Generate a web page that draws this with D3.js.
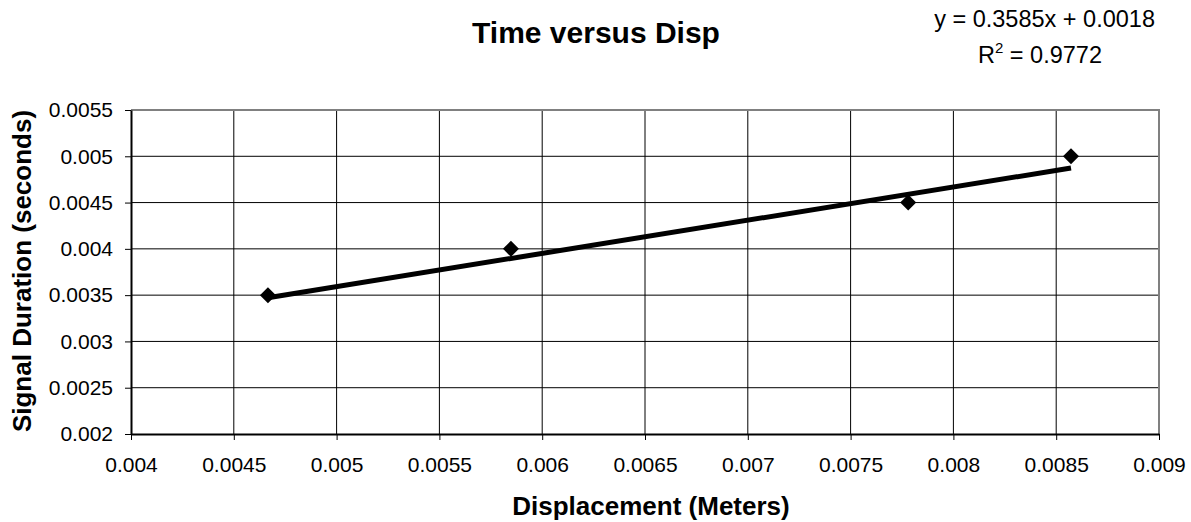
<!DOCTYPE html>
<html>
<head>
<meta charset="utf-8">
<script src="https://cdn.jsdelivr.net/npm/d3@7"></script>
<style>
  body { margin: 0; background: #fff; }
  text { font-family: "Liberation Sans", Arial, sans-serif; }
</style>
</head>
<body>
<svg width="1191" height="522"></svg>
<script>
const dispValues = [0.004666, 0.005848, 0.00778, 0.008572];
const timeValues = [0.0035, 0.004, 0.0045, 0.005];
const xTicks = [0.004, 0.0045, 0.005, 0.0055, 0.006, 0.0065, 0.007, 0.0075, 0.008, 0.0085, 0.009];
const yTicks = [0.002, 0.0025, 0.003, 0.0035, 0.004, 0.0045, 0.005, 0.0055];
const slope = 0.3585, intercept = 0.0018;

const svg = d3.select("svg");
const plotL = 131, plotR = 1159, plotT = 110, plotB = 434;

const x = d3.scaleLinear().domain([0.004, 0.009]).range([plotL, plotR]);
const y = d3.scaleLinear().domain([0.002, 0.0055]).range([plotB, plotT]);

// gridlines
svg.append("g").selectAll("line").data(xTicks.slice(1, -1)).join("line")
    .attr("x1", d => x(d)).attr("x2", d => x(d))
    .attr("y1", plotT).attr("y2", plotB)
    .attr("stroke", "#000").attr("stroke-width", 1);
svg.append("g").selectAll("line").data(yTicks.slice(1, -1)).join("line")
    .attr("x1", plotL).attr("x2", plotR)
    .attr("y1", d => y(d)).attr("y2", d => y(d))
    .attr("stroke", "#000").attr("stroke-width", 1);

// plot border (top/right grey)
svg.append("path")
    .attr("d", `M${plotL},${plotT}H${plotR}V${plotB}`)
    .attr("fill", "none").attr("stroke", "#808080").attr("stroke-width", 2);

const fmt = d => String(+d.toFixed(4));
const xAxis = svg.append("g").attr("transform", `translate(0,${plotB})`)
    .call(d3.axisBottom(x).tickValues(xTicks).tickFormat(fmt).tickSize(6).tickSizeOuter(0).tickPadding(17));
const yAxis = svg.append("g").attr("transform", `translate(${plotL},0)`)
    .call(d3.axisLeft(y).tickValues(yTicks).tickFormat(fmt).tickSize(6).tickSizeOuter(0).tickPadding(12));
[xAxis, yAxis].forEach(g => {
  g.select(".domain").attr("stroke", "#000").attr("stroke-width", 2);
  g.selectAll(".tick line").attr("stroke", "#000");
  g.selectAll(".tick text").attr("font-size", 21).attr("fill", "#000")
   .style("font-family", "'Liberation Sans', Arial, sans-serif");
});

// trendline
const x0 = d3.min(dispValues), x1 = d3.max(dispValues);
svg.append("line")
    .attr("x1", x(x0)).attr("y1", y(slope * x0 + intercept))
    .attr("x2", x(x1)).attr("y2", y(slope * x1 + intercept))
    .attr("stroke", "#000").attr("stroke-width", 5);

// points
svg.append("g").selectAll("path").data(dispValues).join("path")
    .attr("d", d3.symbol(d3.symbolSquare, 128))
    .attr("transform", (d, i) => `translate(${x(d)},${y(timeValues[i])}) rotate(45)`)
    .attr("fill", "#000");

// titles
svg.append("text").attr("x", 596).attr("y", 43).attr("text-anchor", "middle")
    .attr("font-size", 30).attr("font-weight", "bold").text("Time versus Disp");
svg.append("text").attr("x", 651).attr("y", 515).attr("text-anchor", "middle")
    .attr("font-size", 26).attr("font-weight", "bold").text("Displacement (Meters)");
svg.append("text").attr("transform", "translate(31,271) rotate(-90)").attr("text-anchor", "middle")
    .attr("font-size", 26).attr("font-weight", "bold").text("Signal Duration (seconds)");

// equation
svg.append("text").attr("x", 1155).attr("y", 27).attr("text-anchor", "end")
    .attr("font-size", 23.5).text("y = 0.3585x + 0.0018");
const r2 = svg.append("text").attr("x", 1102).attr("y", 63).attr("text-anchor", "end")
    .attr("font-size", 23.5);
r2.append("tspan").text("R");
r2.append("tspan").attr("font-size", 15).attr("dy", -10).text("2");
r2.append("tspan").attr("dy", 10).text(" = 0.9772");
</script>
</body>
</html>
